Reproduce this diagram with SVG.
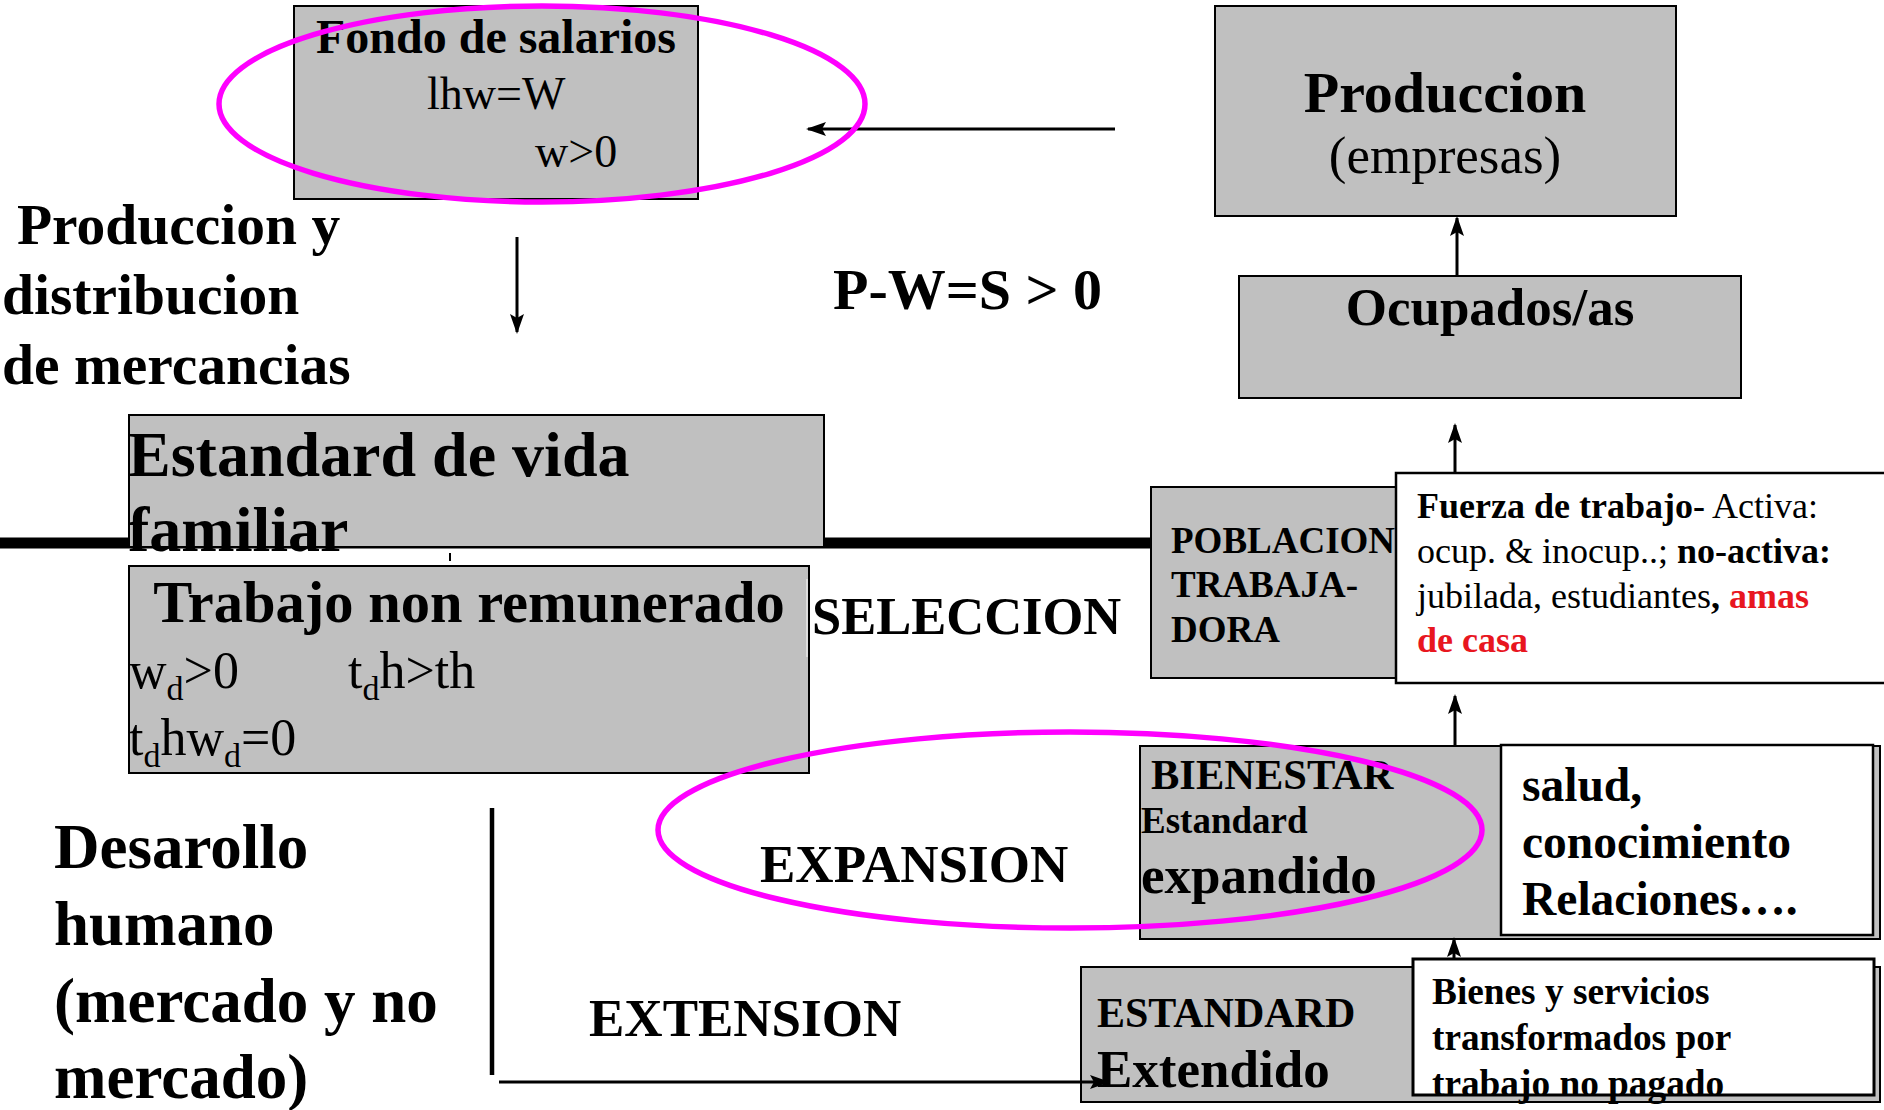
<svg xmlns="http://www.w3.org/2000/svg" width="1884" height="1110" viewBox="0 0 1884 1110">
<style>
text{font-family:"Liberation Serif","Times New Roman",serif;fill:#000}
.b{font-weight:bold}
.gray{fill:#c0c0c0;stroke:#000;stroke-width:2}
.white{fill:#fff;stroke:#000;stroke-width:2.5}
.conn{stroke:#000;stroke-width:3;fill:none}
.ring{fill:none;stroke:#ff00ff;stroke-width:5.5}
.red{fill:#e8161f}
</style>
<defs>
<marker id="ah" markerUnits="userSpaceOnUse" markerWidth="20" markerHeight="14" refX="18" refY="7" orient="auto">
<path d="M0,0 L20,7 L0,14 L4,7 z" fill="#000"/>
</marker>
</defs>
<rect width="1884" height="1110" fill="#fff"/>

<!-- thick divider line -->
<line x1="0" y1="543" x2="1152" y2="543" stroke="#000" stroke-width="11"/>

<g id="fondo">
<rect class="gray" x="294" y="6" width="404" height="193"/>
<text class="b" x="496" y="53" font-size="48" text-anchor="middle">Fondo de salarios</text>
<text x="427" y="109" font-size="46">lhw=W</text>
<text x="535" y="167" font-size="46">w&gt;0</text>
</g>

<g id="produccion">
<rect class="gray" x="1215" y="6" width="461" height="210"/>
<text class="b" x="1445" y="112" font-size="58" text-anchor="middle">Produccion</text>
<text x="1445" y="173" font-size="53" text-anchor="middle">(empresas)</text>
</g>

<g id="ocupados">
<rect class="gray" x="1239" y="276" width="502" height="122"/>
<text class="b" x="1490" y="325" font-size="53" text-anchor="middle">Ocupados/as</text>
</g>

<g id="produccion-distribucion">
<text class="b" font-size="57.5"><tspan x="17" y="244">Produccion y</tspan><tspan x="2" y="314">distribucion</tspan><tspan x="2" y="384">de mercancias</tspan></text>
</g>

<g id="pws">
<text class="b" x="833" y="309" font-size="58">P-W=S &gt; 0</text>
</g>

<g id="estandard-vida">
<rect class="gray" x="129" y="415" width="695" height="132"/>
<text class="b" font-size="64"><tspan x="128" y="476">Estandard de vida</tspan><tspan x="128" y="551">familiar</tspan></text>
</g>

<line x1="450" y1="553" x2="450" y2="561" stroke="#000" stroke-width="2"/>

<g id="trabajo-non-remunerado">
<rect class="gray" x="129" y="566" width="680" height="207"/>
<line x1="807" y1="579" x2="807" y2="657" stroke="#f2f2f2" stroke-width="1.2"/>
<text class="b" x="469" y="622" font-size="58.5" text-anchor="middle">Trabajo non remunerado</text>
<text font-size="52" x="129" y="688">w<tspan font-size="34" dy="12">d</tspan><tspan dy="-12">&gt;0</tspan></text>
<text font-size="52" x="348" y="688">t<tspan font-size="34" dy="12">d</tspan><tspan dy="-12">h&gt;th</tspan></text>
<text font-size="52" x="129" y="755">t<tspan font-size="34" dy="12">d</tspan><tspan dy="-12">hw</tspan><tspan font-size="34" dy="12">d</tspan><tspan dy="-12">=0</tspan></text>
</g>

<g id="seleccion">
<text class="b" x="812" y="634" font-size="52.5">SELECCION</text>
</g>

<g id="poblacion">
<rect class="gray" x="1151" y="487" width="260" height="191"/>
<text class="b" font-size="37"><tspan x="1171" y="553">POBLACION</tspan><tspan x="1171" y="597">TRABAJA-</tspan><tspan x="1171" y="642">DORA</tspan></text>
</g>

<g id="fuerza-trabajo">
<rect class="white" x="1396" y="473" width="492" height="210"/>
<text font-size="36">
<tspan x="1417" y="518" class="b">Fuerza de trabajo-</tspan><tspan> Activa:</tspan>
<tspan x="1417" y="563">ocup. &amp; inocup..; </tspan><tspan class="b">no-activa:</tspan>
<tspan x="1417" y="608">jubilada, estudiantes</tspan><tspan class="b">, </tspan><tspan class="b red">amas</tspan>
<tspan x="1417" y="652" class="b red">de casa</tspan>
</text>
</g>

<g id="bienestar">
<rect class="gray" x="1140" y="746" width="740" height="193"/>
<text class="b" x="1151" y="789" font-size="42.5">BIENESTAR</text>
<text class="b" x="1141" y="833" font-size="37">Estandard</text>
<text class="b" x="1141" y="893" font-size="53">expandido</text>
</g>

<g id="salud">
<rect class="white" x="1501" y="745" width="372" height="190"/>
<text class="b" font-size="47.5"><tspan x="1522" y="801">salud,</tspan><tspan x="1522" y="858">conocimiento</tspan><tspan x="1522" y="915">Relaciones….</tspan></text>
</g>

<g id="estandard-extendido">
<rect class="gray" x="1081" y="967" width="799" height="135"/>
<text class="b" x="1097" y="1027" font-size="42">ESTANDARD</text>
<text class="b" x="1097" y="1087" font-size="53">Extendido</text>
</g>

<g id="bienes-servicios">
<rect x="1413" y="959" width="461" height="136" fill="#fff"/>
<text class="b" font-size="37.3"><tspan x="1432" y="1004">Bienes y servicios</tspan><tspan x="1432" y="1050">transformados por</tspan><tspan x="1432" y="1096">trabajo no pagado</tspan></text>
<rect x="1413" y="959" width="461" height="136" fill="none" stroke="#000" stroke-width="3"/>
</g>

<g id="desarollo">
<text class="b" font-size="63"><tspan x="54" y="868">Desarollo</tspan><tspan x="54" y="945">humano</tspan><tspan x="54" y="1022">(mercado y no</tspan><tspan x="54" y="1098">mercado)</tspan></text>
</g>

<g id="expansion">
<text class="b" x="760" y="882" font-size="53">EXPANSION</text>
</g>

<g id="extension">
<text class="b" x="589" y="1036" font-size="53">EXTENSION</text>
</g>

<g id="connectors">
<line class="conn" x1="1115" y1="129" x2="808" y2="129" marker-end="url(#ah)"/>
<line class="conn" x1="517" y1="237" x2="517" y2="332" stroke-width="2.5" marker-end="url(#ah)"/>
<line class="conn" x1="1457" y1="276" x2="1457" y2="218" marker-end="url(#ah)"/>
<line class="conn" x1="1455" y1="473" x2="1455" y2="425" marker-end="url(#ah)"/>
<line class="conn" x1="1455" y1="746" x2="1455" y2="696" marker-end="url(#ah)"/>
<line class="conn" x1="1454" y1="960" x2="1454" y2="939" marker-end="url(#ah)"/>
<line x1="492" y1="808" x2="492" y2="1075" stroke="#000" stroke-width="4.5"/>
<line class="conn" x1="499" y1="1082" x2="1108" y2="1082" stroke-width="5" marker-end="url(#ah)"/>
</g>

<g id="highlights">
<ellipse class="ring" cx="542" cy="104" rx="323" ry="98"/>
<ellipse class="ring" cx="1070" cy="830" rx="412" ry="98"/>
</g>
</svg>
